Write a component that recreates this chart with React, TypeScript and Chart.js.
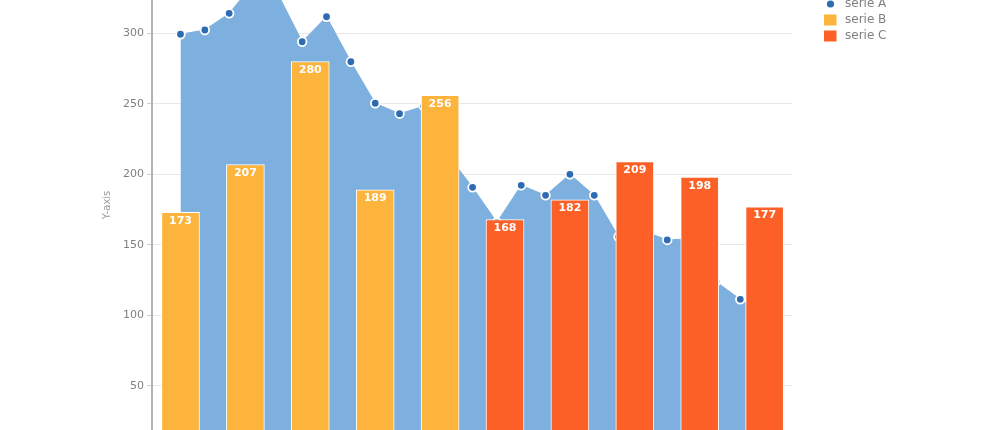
import { useEffect, useRef } from "react";
import { Chart, registerables } from "chart.js";

Chart.register(...registerables);

// ---- data ----
const seriesALabel = "serie A";
const seriesBLabel = "serie B";
const seriesCLabel = "serie C";

const seriesAPositions = [
  0, 0.375, 0.75, 1.125, 1.5, 1.875, 2.25, 2.625, 3, 3.375, 3.75, 4.125, 4.5,
  4.875, 5.25, 5.625, 6, 6.375, 6.75, 7.125, 7.5, 7.875, 8.25, 8.625, 9,
];
const seriesAValues = [
  299.3, 302.3, 314.1, 335, 328, 294, 311.7, 279.8, 250.4, 243, 248.3, 213.4,
  190.8, 166, 192.2, 185.1, 200, 185.1, 155.8, 160, 153.5, 154.4, 124, 111.4, 100,
];

const seriesBPositions = [0, 1, 2, 3, 4];
const seriesBValues = [173, 207, 280, 189, 256];

const seriesCPositions = [5, 6, 7, 8, 9];
const seriesCValues = [168, 182, 209, 198, 177];

const yAxisTitle = "Y-axis";

// ---- styles ----
const FONT = "'DejaVu Sans', Verdana, sans-serif";
const AREA_COLOR = "#7eb0df";
const POINT_COLOR = "#2d6cb3";
const COLOR_B = "#fdb43c";
const COLOR_C = "#fc6027";

const barLabelPlugin = {
  id: "barLabels",
  afterDatasetsDraw(chart: any) {
    const ctx = chart.ctx;
    ctx.save();
    ctx.font = `bold 11px ${FONT}`;
    ctx.fillStyle = "#ffffff";
    ctx.textAlign = "center";
    ctx.textBaseline = "middle";
    chart.data.datasets.forEach((ds: any, i: number) => {
      if (ds.type !== "bar") return;
      const meta = chart.getDatasetMeta(i);
      meta.data.forEach((el: any, j: number) => {
        const v = ds.data[j].y;
        ctx.fillText(String(v), el.x, el.y + 8.5);
      });
    });
    ctx.restore();
  },
};

const legendPlugin = {
  id: "customLegend",
  afterDraw(chart: any) {
    const ctx = chart.ctx;
    ctx.save();
    const top = 44; // canvas y of first item centre
    const step = 16;
    chart.data.datasets.forEach((ds: any, i: number) => {
      const cy = top + i * step;
      if (ds.type === "line") {
        ctx.fillStyle = ds.pointBackgroundColor;
        ctx.beginPath();
        ctx.arc(830.5, cy, 3.6, 0, Math.PI * 2);
        ctx.fill();
      } else {
        ctx.fillStyle = ds.backgroundColor;
        ctx.fillRect(824, cy - 5.5, 12.5, 11);
      }
      ctx.fillStyle = "#808080";
      ctx.font = `12px ${FONT}`;
      ctx.textAlign = "left";
      ctx.textBaseline = "middle";
      ctx.fillText(ds.label, 845, cy);
    });
    ctx.restore();
  },
};

export default function App() {
  const ref = useRef<HTMLCanvasElement | null>(null);

  useEffect(() => {
    if (!ref.current) return;
    Chart.defaults.font.family = FONT;
    const chart = new Chart(ref.current, {
      type: "bar",
      data: {
        datasets: [
          {
            type: "line",
            label: seriesALabel,
            data: seriesAValues.map((y, i) => ({ x: seriesAPositions[i], y })),
            order: 2,
            fill: "origin",
            backgroundColor: AREA_COLOR,
            borderColor: AREA_COLOR,
            borderWidth: 1,
            tension: 0,
            pointRadius: 4.3,
            pointBackgroundColor: POINT_COLOR,
            pointBorderColor: "#ffffff",
            pointBorderWidth: 1.8,
          } as any,
          {
            type: "bar",
            label: seriesBLabel,
            data: seriesBValues.map((y, i) => ({ x: seriesBPositions[i], y })),
            order: 1,
            backgroundColor: COLOR_B,
            borderColor: "#ffffff",
            borderWidth: 1,
            grouped: false,
            barThickness: 38,
          } as any,
          {
            type: "bar",
            label: seriesCLabel,
            data: seriesCValues.map((y, i) => ({ x: seriesCPositions[i], y })),
            order: 1,
            backgroundColor: COLOR_C,
            borderColor: "#ffffff",
            borderWidth: 1,
            grouped: false,
            barThickness: 38,
          } as any,
        ],
      },
      options: {
        responsive: false,
        animation: false,
        events: [],
        layout: {
          padding: { left: 0, right: 208, top: 0, bottom: 0 },
          autoPadding: false,
        },
        plugins: {
          legend: { display: false },
          tooltip: { enabled: false },
        },
        scales: {
          x: {
            type: "linear",
            min: -0.439,
            max: 9.422,
            offset: false,
            display: false,
            ticks: { stepSize: 1, includeBounds: false },
          },
          y: {
            type: "linear",
            min: 4.61,
            max: 351.93,
            ticks: {
              stepSize: 50,
              includeBounds: false,
              color: "#808080",
              font: { family: FONT, size: 11 },
              padding: 3,
            },
            grid: {
              color: "#e9e9e9",
              tickLength: 5,
              tickColor: "#d4d4d4",
            },
            border: { color: "#b3b3b3", width: 2 },
            title: {
              display: true,
              text: yAxisTitle,
              color: "#999999",
              font: { family: FONT, size: 10 },
              padding: { top: 101, bottom: 0 },
            },
            afterFit: (s: any) => {
              s.width = 152;
              s.paddingTop = 0;
              s.paddingBottom = 0;
            },
          },
        },
      } as any,
      plugins: [barLabelPlugin, legendPlugin],
    });
    return () => chart.destroy();
  }, []);

  return (
    <div
      style={{
        position: "fixed",
        left: 0,
        top: -40,
        width: 1000,
        height: 490,
        overflow: "hidden",
      }}
    >
      <canvas ref={ref} width={1000} height={490} style={{ display: "block" }} />
    </div>
  );
}
